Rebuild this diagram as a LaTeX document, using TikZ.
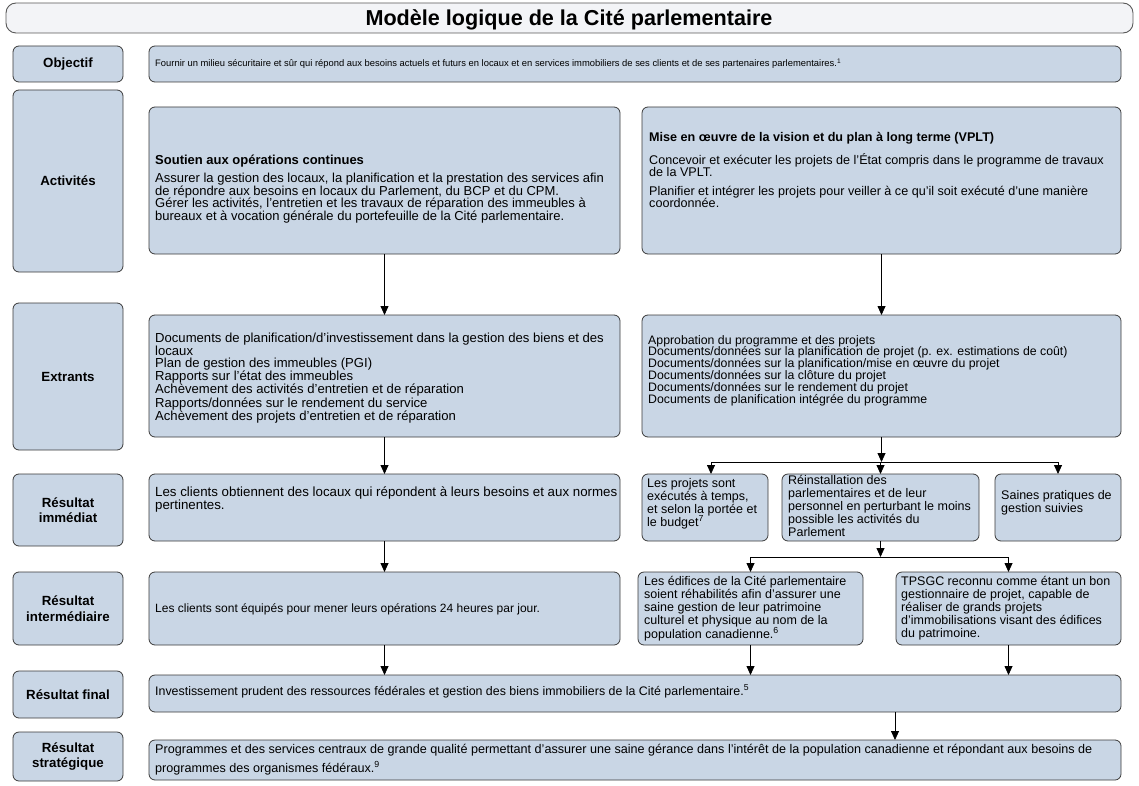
\documentclass[tikz,border=0pt]{standalone}
\usepackage{fontspec}
\setmainfont{Liberation Sans}
\usetikzlibrary{arrows.meta}
\definecolor{boxfill}{HTML}{C9D6E5}
\definecolor{titlefill}{HTML}{F3F4F7}
\definecolor{edge}{HTML}{3A3A3A}
\tikzset{
  cbox/.style={draw=edge, fill=boxfill, rounded corners=6pt, line width=0.8pt, inner sep=0pt, outer sep=0pt},
  tbox/.style={draw=edge!85, fill=titlefill, rounded corners=10pt, line width=0.9pt, inner sep=0pt, outer sep=0pt},
  lbl/.style={font=\fontsize{13.3}{15.5}\selectfont\bfseries, align=center, inner sep=0pt},
  arr/.style={-{Triangle[length=9pt,width=8pt]}, line width=0.8pt, black},
  ln/.style={line width=0.8pt, black},
}
\newcommand{\mkbox}[6]{\node[#6, minimum width={(#4-#2)*1pt}, minimum height={(#5-#3)*1pt}] (#1) at ({(#2+#4)/2},{(#3+#5)/2}) {};}
\newcommand{\tx}[6]{\node[inner sep=0pt, anchor=base west, font=\fontsize{#4}{#5}\selectfont] (#1) at (#2,#3) {\parbox[t]{1100pt}{\raggedright #6}};}
\begin{document}
\begin{tikzpicture}[x=1pt,y=-1pt]
\useasboundingbox (0,0) rectangle (1139,786);
% title
\mkbox{title}{6}{3}{1133}{33}{tbox}
\node[inner sep=0pt, anchor=base, font=\fontsize{21.6}{24}\selectfont\bfseries] (ttl) at (569,25.5) {Modèle logique de la Cité parlementaire};
% labels
\mkbox{lobj}{13}{46}{123}{82}{cbox}
\mkbox{lact}{13}{90}{123}{272}{cbox}
\mkbox{lext}{13}{303}{123}{450}{cbox}
\mkbox{limm}{13}{474}{123}{546}{cbox}
\mkbox{lint}{13}{572}{123}{645}{cbox}
\mkbox{lfin}{13}{671}{123}{718}{cbox}
\mkbox{lstr}{13}{732}{123}{781}{cbox}
\node[lbl] (tlobj) at (lobj) {Objectif};
\node[lbl] (tlact) at (lact) {Activités};
\node[lbl] (tlext) at (lext) {Extrants};
\node[lbl] (tlimm) at (limm) {Résultat\\immédiat};
\node[lbl] (tlint) at (lint) {Résultat\\intermédiaire};
\node[lbl] (tlfin) at (lfin) {Résultat final};
\node[lbl] (tlstr) at (lstr) {Résultat\\stratégique};
% content boxes
\mkbox{obj}{149}{46}{1121}{82}{cbox}
\mkbox{A1}{149}{107}{620}{254}{cbox}
\mkbox{A2}{642}{107}{1121}{254}{cbox}
\mkbox{E1}{149}{315}{620}{437}{cbox}
\mkbox{E2}{642}{315}{1121}{437}{cbox}
\mkbox{I1}{149}{474}{620}{541}{cbox}
\mkbox{I2a}{642}{474}{768}{541}{cbox}
\mkbox{I2b}{782}{474}{979}{541}{cbox}
\mkbox{I2c}{995}{474}{1121}{541}{cbox}
\mkbox{M1}{149}{572}{620}{645}{cbox}
\mkbox{M2a}{638}{572}{863}{645}{cbox}
\mkbox{M2b}{896}{572}{1121}{645}{cbox}
\mkbox{F}{149}{675}{1121}{712}{cbox}
\mkbox{S}{149}{740}{1121}{780}{cbox}
% texts
\tx{tobj}{155}{67}{9.4}{11.5}{Fournir un milieu sécuritaire et sûr qui répond aux besoins actuels et futurs en locaux et en services immobiliers de ses clients et de ses partenaires parlementaires.\textsuperscript{1}}
\tx{tA1}{155}{165}{13}{12.6}{\textbf{Soutien aux opérations continues}\\[5pt]
Assurer la gestion des locaux, la planification et la prestation des services afin\\
de répondre aux besoins en locaux du Parlement, du BCP et du CPM.\\
Gérer les activités, l’entretien et les travaux de réparation des immeubles à\\
bureaux et à vocation générale du portefeuille de la Cité parlementaire.}
\tx{tA2}{649}{142}{12.6}{12.3}{\textbf{Mise en œuvre de la vision et du plan à long terme (VPLT)}\\[8pt]
Concevoir et exécuter les projets de l’État compris dans le programme de travaux\\
de la VPLT.\\[6pt]
Planifier et intégrer les projets pour veiller à ce qu’il soit exécuté d’une manière\\
coordonnée.}
\tx{tE1}{155}{342}{13.1}{11.9}{Documents de planification/d’investissement dans la gestion des biens et des\\
locaux\\
Plan de gestion des immeubles (PGI)\\
Rapports sur l’état des immeubles\\
Achèvement des activités d’entretien et de réparation\\
Rapports/données sur le rendement du service\\
Achèvement des projets d’entretien et de réparation}
\tx{tE2}{648}{344}{12.3}{11.9}{Approbation du programme et des projets\\
Documents/données sur la planification de projet (p. ex. estimations de coût)\\
Documents/données sur la planification/mise en œuvre du projet\\
Documents/données sur la clôture du projet\\
Documents/données sur le rendement du projet\\
Documents de planification intégrée du programme}
\tx{tI1}{155}{496}{13.3}{12.2}{Les clients obtiennent des locaux qui répondent à leurs besoins et aux normes\\
pertinentes.}
\tx{tI2a}{647}{487}{12.5}{13}{Les projets sont\\
exécutés à temps,\\
et selon la portée et\\
le budget\textsuperscript{7}}
\tx{tI2b}{788}{484}{12.5}{13}{Réinstallation des\\
parlementaires et de leur\\
personnel en perturbant le moins\\
possible les activités du\\
Parlement}
\tx{tI2c}{1001}{499}{12.5}{13}{Saines pratiques de\\
gestion suivies}
\tx{tM1}{155}{612}{12}{12.5}{Les clients sont équipés pour mener leurs opérations 24 heures par jour.}
\tx{tM2a}{644}{585}{12.5}{13}{Les édifices de la Cité parlementaire\\
soient réhabilités afin d’assurer une\\
saine gestion de leur patrimoine\\
culturel et physique au nom de la\\
population canadienne.\textsuperscript{6}}
\tx{tM2b}{901}{585}{12.5}{13}{TPSGC reconnu comme étant un bon\\
gestionnaire de projet, capable de\\
réaliser de grands projets\\
d’immobilisations visant des édifices\\
du patrimoine.}
\tx{tF}{155}{695}{12.4}{12.5}{Investissement prudent des ressources fédérales et gestion des biens immobiliers de la Cité parlementaire.\textsuperscript{5}}
\tx{tS}{155}{753}{12.6}{19}{Programmes et des services centraux de grande qualité permettant d’assurer une saine gérance dans l’intérêt de la population canadienne et répondant aux besoins de\\
programmes des organismes fédéraux.\textsuperscript{9}}
% connectors
\coordinate (j1) at (881.5,462);
\coordinate (j2) at (880.5,557);
\coordinate (a1x) at (711,0);
\coordinate (fx) at (895,0);
\draw[arr] (A1) -- (E1);
\draw[arr] (A2) -- (E2);
\draw[arr] (E1) -- (I1);
\draw[arr] (E2.south) -- (E2.south |- j1);
\draw[ln] (a1x |- j1) -- (I2c.north |- j1);
\draw[arr] (a1x |- j1) -- (a1x |- I2a.north);
\draw[arr] (I2b.north |- j1) -- (I2b.north);
\draw[arr] (I2c.north |- j1) -- (I2c.north);
\draw[arr] (I1) -- (M1);
\draw[arr] (I2b.south) -- (I2b.south |- j2);
\draw[ln] (M2a.north |- j2) -- (M2b.north |- j2);
\draw[arr] (M2a.north |- j2) -- (M2a.north);
\draw[arr] (M2b.north |- j2) -- (M2b.north);
\draw[arr] (M1.south) -- (M1.south |- F.north);
\draw[arr] (M2a.south) -- (M2a.south |- F.north);
\draw[arr] (M2b.south) -- (M2b.south |- F.north);
\draw[arr] (fx |- F.south) -- (fx |- S.north);
\end{tikzpicture}
\end{document}
